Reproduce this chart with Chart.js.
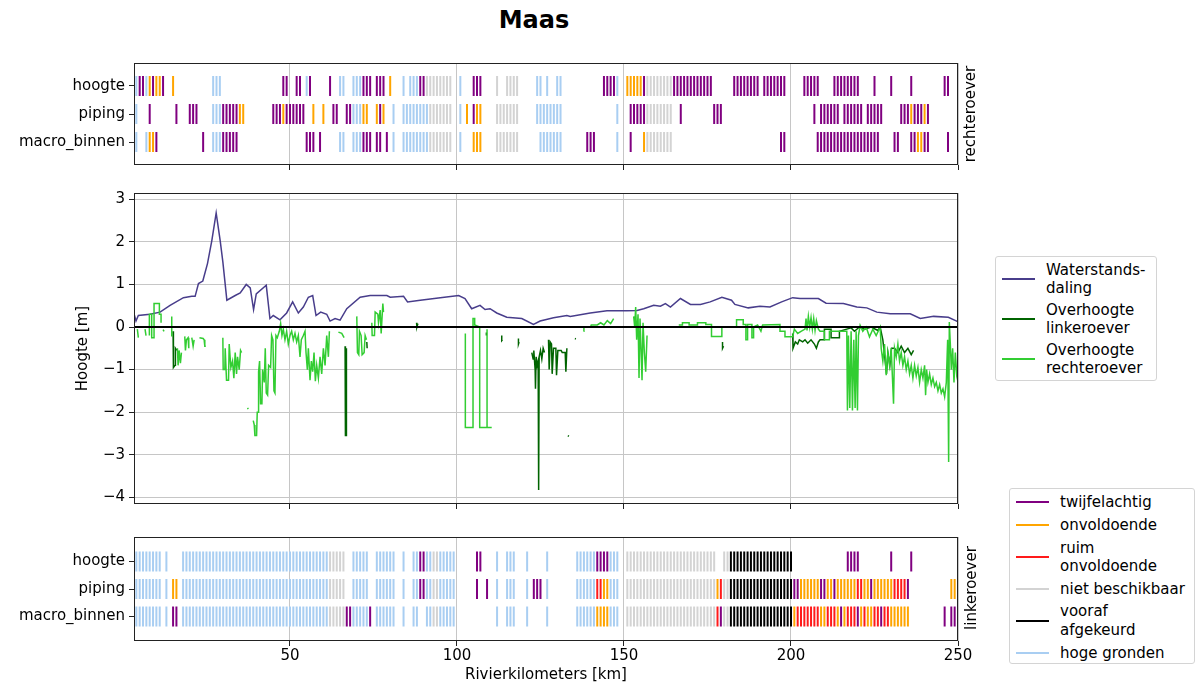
<!DOCTYPE html>
<html><head><meta charset="utf-8">
<script src="https://cdn.jsdelivr.net/npm/chart.js@4.4.1/dist/chart.umd.min.js"></script>
<style>
body{margin:0;background:#fff;font-family:'DejaVu Sans',sans-serif;}
#wrap{position:relative;width:1198px;height:684px;overflow:hidden;background:#fff}
canvas{position:absolute;left:0}
#title{position:absolute;top:6px;left:434px;width:200px;text-align:center;font-weight:bold;font-size:24px;line-height:28px;color:#000}
.side{position:absolute;font-size:15px;line-height:18px;height:18px;transform:rotate(-90deg);white-space:nowrap;width:120px;text-align:center;color:#000}
.legend{position:absolute;border:1px solid #d4d4d4;border-radius:3px;background:#fff;font-size:15px;color:#000;box-sizing:border-box;padding:4px 0 0 6px}
.item{display:flex;align-items:center;line-height:18.3px}
.hl{width:33px;height:0;border-top:2px solid;margin-right:11px;flex:none}
</style></head>
<body>
<div id="wrap">
  <div id="title">Maas</div>
  <canvas id="c1" width="1198" height="130" style="top:50px;width:1198px;height:130px"></canvas>
  <canvas id="c2" width="1198" height="350" style="top:180px;width:1198px;height:350px"></canvas>
  <canvas id="c3" width="1198" height="159" style="top:525px;width:1198px;height:159px"></canvas>
  <div class="side" style="left:910px;top:105px">rechteroever</div>
  <div class="side" style="left:911px;top:579px">linkeroever</div>
  <div class="legend" id="leg1" style="left:995px;top:256px;width:162px;height:125px"></div>
  <div class="legend" id="leg2" style="left:1009px;top:488px;width:186px;height:176px"></div>
</div>
<script>
// ---------- DATA ----------
const KM_MIN = 3.3, KM_MAX = 250;
const xTicks = [50, 100, 150, 200, 250];
const hTicks = [-4, -3, -2, -1, 0, 1, 2, 3];
const rowLabels = ['macro_binnen', 'piping', 'hoogte'];

const statusCodes = ['T', 'O', 'R', 'N', 'V', 'H'];
const statusLabels = {T:'twijfelachtig', O:'onvoldoende', R:'ruim onvoldoende', N:'niet beschikbaar', V:'vooraf afgekeurd', H:'hoge gronden'};
const statusLegend = {T:['twijfelachtig'], O:['onvoldoende'], R:['ruim','onvoldoende'], N:['niet beschikbaar'], V:['vooraf','afgekeurd'], H:['hoge gronden']};
const statusColors = {T:'#800080', O:'#ffa500', R:'#ff1a1a', N:'#d3d3d3', V:'#000000', H:'#a9cef2'};

// rechteroever strips: [from km, to km, status]
const rHoogte = [[4,4,'H'],[5,6,'T'],[7,7,'H'],[8,8,'O'],[9,9,'T'],[10,11,'O'],[12,12,'T'],[15,15,'O'],[27,29,'H'],[48,49,'T'],[52,53,'T'],[55,55,'H'],[56,56,'T'],[62,62,'T'],[65,66,'H'],[69,71,'H'],[72,74,'T'],[76,78,'T'],[80,80,'O'],[84,84,'H'],[86,88,'H'],[89,90,'T'],[91,98,'N'],[101,101,'H'],[105,107,'T'],[112,112,'N'],[115,118,'N'],[124,125,'H'],[127,127,'H'],[130,131,'H'],[144,147,'T'],[148,148,'H'],[151,155,'O'],[156,156,'T'],[157,164,'N'],[165,176,'T'],[183,190,'T'],[192,198,'T'],[204,208,'T'],[213,220,'T'],[225,225,'T'],[230,230,'T'],[236,236,'T'],[246,247,'T']];
const rPiping = [[4,4,'H'],[8,8,'T'],[16,16,'T'],[20,22,'T'],[27,29,'H'],[30,34,'T'],[35,36,'O'],[45,47,'T'],[48,48,'O'],[49,54,'T'],[57,57,'O'],[60,60,'O'],[63,64,'T'],[67,68,'T'],[69,71,'H'],[72,73,'O'],[76,76,'O'],[77,77,'T'],[78,78,'O'],[81,81,'H'],[84,91,'H'],[92,98,'N'],[101,101,'H'],[103,103,'O'],[105,105,'T'],[106,107,'O'],[112,118,'N'],[124,131,'H'],[148,148,'H'],[152,156,'T'],[157,164,'N'],[167,167,'T'],[177,179,'T'],[207,207,'T'],[209,214,'T'],[216,221,'T'],[223,227,'T'],[233,235,'T'],[236,236,'O'],[237,239,'T'],[240,240,'O'],[241,241,'T']];
const rMacro = [[4,4,'H'],[7,7,'H'],[8,9,'O'],[10,10,'T'],[24,24,'T'],[27,29,'H'],[30,34,'T'],[55,57,'T'],[59,59,'T'],[65,66,'H'],[69,71,'H'],[72,74,'T'],[76,77,'T'],[79,79,'T'],[81,81,'H'],[84,91,'H'],[92,98,'N'],[101,101,'H'],[105,107,'O'],[112,118,'N'],[125,131,'H'],[139,141,'T'],[148,148,'H'],[152,152,'T'],[156,156,'O'],[157,164,'N'],[197,198,'T'],[208,226,'T'],[231,232,'T'],[236,237,'T'],[238,239,'O'],[240,241,'T'],[247,247,'T']];

// linkeroever strips
const lHoogte = [[4,11,'H'],[13,13,'H'],[18,61,'H'],[62,66,'N'],[69,73,'H'],[76,81,'H'],[84,84,'H'],[87,88,'H'],[89,90,'T'],[91,92,'H'],[93,94,'N'],[95,99,'H'],[106,107,'T'],[112,112,'H'],[115,117,'H'],[121,121,'H'],[127,127,'H'],[136,141,'H'],[142,145,'T'],[146,148,'H'],[151,177,'N'],[180,181,'N'],[182,200,'V'],[217,220,'T'],[230,230,'T'],[236,236,'T'],[250,250,'T']];
const lPiping = [[4,11,'H'],[13,13,'H'],[15,16,'O'],[18,61,'H'],[62,66,'N'],[69,73,'H'],[76,81,'H'],[84,84,'H'],[87,88,'H'],[89,90,'T'],[91,92,'H'],[93,94,'N'],[95,99,'H'],[106,106,'T'],[109,109,'T'],[112,112,'H'],[115,117,'H'],[121,121,'H'],[123,125,'T'],[127,127,'H'],[136,141,'H'],[142,143,'R'],[144,145,'O'],[146,148,'H'],[151,177,'N'],[178,178,'O'],[179,179,'R'],[180,181,'N'],[182,200,'V'],[201,202,'T'],[203,208,'O'],[209,210,'T'],[211,212,'O'],[213,213,'T'],[214,219,'O'],[220,221,'R'],[222,223,'O'],[224,224,'T'],[225,230,'O'],[231,234,'R'],[235,235,'T'],[248,250,'O']];
const lMacro = [[4,11,'H'],[13,13,'H'],[15,16,'T'],[18,61,'H'],[62,66,'N'],[67,68,'T'],[69,73,'H'],[74,74,'T'],[76,81,'H'],[84,84,'H'],[87,88,'H'],[91,92,'H'],[93,94,'N'],[95,99,'H'],[112,112,'H'],[115,117,'H'],[121,121,'H'],[127,127,'H'],[136,141,'H'],[142,145,'O'],[146,148,'H'],[151,177,'N'],[178,178,'R'],[179,179,'T'],[180,181,'N'],[182,200,'V'],[201,201,'O'],[202,208,'R'],[209,210,'O'],[211,213,'R'],[214,214,'O'],[215,215,'T'],[216,216,'O'],[217,219,'R'],[220,220,'T'],[221,221,'O'],[222,222,'R'],[223,224,'O'],[225,226,'R'],[227,227,'T'],[228,229,'R'],[230,235,'O'],[246,246,'T'],[248,249,'T']];

// Waterstandsdaling
const wKm = [3.3,3.9,4.6,8.1,11.1,14.1,18.1,20.6,21.6,22.6,23.9,25.3,26.6,27.9,29.1,29.9,31.1,33.6,35.1,36.9,38.1,39.1,39.9,42.9,44.0,45.0,47.0,49.0,50.8,52.5,54.0,55.5,56.8,57.8,59.2,61.0,62.0,63.5,65.0,67.0,71.0,74.0,79.0,80.0,84.0,85.2,89.0,95.0,100.5,102.4,104.4,106.9,108.4,109.9,111.9,114.9,119.4,122.9,124.9,128.9,132.9,133.9,139.9,144.9,150.9,153.9,155.9,158.9,160.9,162.4,163.9,166.9,169.9,172.9,175.8,179.3,182.2,183.2,187.2,190.7,193.7,197.2,200.5,202.7,208.2,210.5,215.7,219.7,222.7,225.7,229.7,235.7,238.7,242.7,247.1,249.6,250];
const wVal = [0.31,0.14,0.27,0.30,0.35,0.51,0.69,0.72,0.72,1.02,1.08,1.49,2.03,2.68,2.03,1.53,0.63,0.74,0.80,1.0,0.92,0.41,0.78,0.98,0.20,0.27,0.17,0.33,0.59,0.33,0.47,0.70,0.74,0.27,0.35,0.30,0.14,0.20,0.16,0.43,0.70,0.74,0.74,0.70,0.72,0.59,0.63,0.69,0.74,0.67,0.43,0.51,0.41,0.43,0.33,0.23,0.20,0.06,0.14,0.22,0.27,0.25,0.33,0.38,0.38,0.39,0.43,0.51,0.49,0.55,0.47,0.67,0.53,0.53,0.59,0.70,0.63,0.53,0.45,0.49,0.47,0.59,0.69,0.67,0.67,0.56,0.55,0.47,0.45,0.35,0.31,0.31,0.20,0.25,0.23,0.14,0.12];

// Overhoogte linkeroever [km, m], null = gap
const linkPts = [
[15.0,-0.1],[15.1,-0.95],[15.6,-0.9],[15.7,-0.5],[16.1,-0.55],null,
[66.5,-0.45],[66.6,-2.55],[66.9,-2.55],[66.9,-0.5],null,
[73.0,-0.35],[73.1,-0.5],null,
[87.9,0.1],[88.0,0.0],[88.3,0.08],null,
[108.8,-0.13],[108.8,-0.2],null,
[113.4,-0.2],[113.4,-0.32],[113.6,-0.3],null,
[118.4,-0.27],[118.4,-0.4],[118.6,-0.35],null,
[122.4,-0.6],[122.8,-0.75],[123.0,-0.55],[123.4,-1.0],[123.5,-1.45],[123.7,-0.7],[124.0,-0.9],[124.3,-0.8],[124.45,-3.83],[124.6,-0.7],[125.0,-0.55],[125.4,-0.75],[125.8,-0.5],[126.2,-0.6],null,
[127.4,-0.3],[127.6,-1.0],[127.9,-0.35],[128.3,-0.4],[128.5,-1.1],[128.9,-0.5],[129.6,-0.5],[129.8,-1.13],[130.2,-0.55],[131.2,-0.55],[131.5,-0.6],[132.4,-0.6],[132.6,-1.05],[132.9,-0.5],null,
[133.2,-2.55],[133.5,-2.57],null,
[135.3,-0.27],[135.6,-0.28],null,
[179.5,-0.35],[179.5,-0.5],[179.8,-0.45],null,
[200.5,-0.15],[200.6,-0.5],[201.3,-0.35],[202.0,-0.4],[202.5,-0.3],[203.5,-0.35],[204.2,-0.3],[205.0,-0.38],[206.0,-0.3],[207.0,-0.4],[207.6,-0.5],[208.2,-0.35],[208.7,-0.3],[210.0,-0.3],[210.0,-0.05],[212.0,-0.05],[212.0,-0.25],[214.5,-0.25],[214.5,-0.1],[216.7,-0.05],[218.0,-0.02],[219.0,-0.1],[220.5,0.0],[222.0,-0.05],[224.0,0.0],[226.0,-0.08],[226.7,0.0],[227.5,-0.3],[228.2,-0.8],[228.6,-1.1],[229.0,-0.6],[229.6,-0.9],[230.1,-0.5],[231.0,-0.5],[232.0,-0.6],[233.0,-0.45],[234.0,-0.6],[235.0,-0.5],[236.0,-0.65],[236.7,-0.55],null
];

// Overhoogte rechteroever [km, m], null = gap
const rechtPts = [
[4.3,-0.05],[4.6,-0.25],null,
[6.6,-0.05],[6.9,-0.2],null,
[7.9,-0.2],[7.9,0.3],[8.6,0.3],[8.6,-0.25],[9.3,-0.25],[9.3,0.55],[10.9,0.55],[10.9,0.3],[11.4,0.3],[11.4,0.1],null,
[12.0,-0.06],[12.3,-0.1],null,
[14.6,0.25],[14.6,-0.22],null,
[16.3,-0.5],[16.5,-0.9],[16.8,-0.55],[17.2,-0.85],[17.5,-0.6],null,
[18.5,-0.22],[18.7,-0.55],[19.0,-0.3],[19.5,-0.25],[19.7,-0.5],null,
[20.6,-0.25],[21.0,-0.45],[21.3,-0.3],null,
[22.9,-0.25],[24.0,-0.27],[24.3,-0.3],[24.5,-0.45],[24.8,-0.45],null,
[29.9,-0.25],[30.0,-1.0],[30.5,-1.0],[30.6,-0.5],[31.0,-1.25],[31.6,-1.25],[31.8,-0.4],[32.3,-0.95],[32.8,-0.8],[33.2,-1.2],[33.6,-0.6],[34.0,-1.1],[34.3,-0.7],[34.8,-1.0],[35.2,-0.55],[35.5,-0.6],null,
[37.3,-1.9],[37.5,-1.93],null,
[39.0,-2.2],[39.3,-2.3],[39.5,-2.55],[40.0,-2.55],[40.2,-2.0],[40.5,-2.0],[40.6,-1.05],[40.9,-0.8],[41.2,-1.8],[41.6,-1.8],[41.8,-1.0],[42.3,-1.3],[42.6,-0.5],[42.9,-1.55],[43.3,-1.6],[43.6,-0.9],[44.2,-0.95],[44.5,-0.2],[44.9,-0.3],[45.2,-1.5],[45.5,-1.55],[45.8,-0.2],[46.2,-0.25],[46.8,-0.1],[47.2,0.08],[47.6,-0.2],[48.0,-0.05],[48.5,-0.3],[49.0,-0.1],[49.5,-0.4],[50.0,-0.2],[50.5,-0.1],[51.0,-0.3],[51.5,-0.15],[52.0,-0.35],[52.5,-0.2],[53.0,-0.7],[53.4,-0.3],[54.0,-0.2],[54.5,-0.1],[54.8,-0.6],[55.2,-1.0],[55.5,-0.5],[56.0,-1.25],[56.4,-0.8],[56.8,-1.05],[57.2,-0.6],[57.6,-1.27],[58.0,-0.9],[58.5,-1.2],[59.0,-0.7],[59.5,-1.1],[60.0,-0.5],[60.5,-0.9],[61.0,-0.2],[61.5,-0.7],[61.8,-0.1],null,
[64.5,-0.12],[65.5,-0.15],[66.2,-0.25],null,
[70.0,0.25],[70.2,-0.6],[70.6,-0.65],[70.8,-0.1],[71.3,-0.2],[71.6,-0.65],[72.2,-0.6],[72.5,-0.2],[72.9,-0.3],null,
[74.5,0.1],[74.6,-0.2],[75.3,-0.2],[75.5,0.35],[76.3,0.3],[76.5,0.1],[77.0,0.4],[77.3,-0.15],[77.8,0.55],[78.0,0.35],null,
[102.5,-0.15],[102.5,-2.36],[104.8,-2.36],[104.8,0.2],[105.3,0.2],[105.3,0.05],[106.8,0.0],[106.8,-2.36],[110.4,-2.36],null,
[109.0,-0.05],[109.0,-2.36],null,
[137.9,-0.1],[138.0,0.0],[140.0,0.0],[140.2,0.05],[142.0,0.05],[143.0,0.1],[144.0,0.05],[145.0,0.15],[146.0,0.08],[146.9,0.2],null,
[152.9,0.25],[153.2,0.0],[153.5,0.47],[153.8,-0.3],[154.2,0.3],[154.5,-1.2],[154.8,0.2],[155.1,-0.5],[155.4,-1.25],[155.7,0.1],[156.1,-0.6],[156.5,-1.05],[156.9,-0.2],null,
[166.4,0.05],[167.5,0.05],[167.5,0.1],[169.5,0.1],[169.5,0.05],[172.0,0.05],[172.0,0.1],[174.5,0.1],[174.5,0.06],[176.2,0.06],[176.2,-0.22],[179.3,-0.22],[179.3,0.0],[183.7,0.0],[183.7,0.17],[185.7,0.17],[185.7,0.06],[186.5,0.06],[186.5,-0.3],[187.0,-0.3],[187.0,0.06],[188.3,0.06],[188.3,-0.25],[188.8,-0.25],[188.8,0.0],[190.0,0.05],[191.0,-0.1],[191.5,0.05],[196.7,0.06],[196.7,-0.1],[198.2,-0.1],[198.2,-0.23],[200.5,-0.23],[201.0,-0.05],[202.0,-0.15],[203.0,-0.1],[204.2,-0.05],[204.5,0.2],[204.8,-0.08],[205.2,0.25],[205.6,0.0],[206.0,0.22],[206.4,-0.05],[206.8,0.2],[207.2,-0.08],[207.6,0.15],[208.2,-0.05],[208.7,-0.1],[210.0,-0.1],[210.0,-0.3],[211.5,-0.3],[211.5,-0.1],[216.7,-0.1],[216.9,-1.96],[217.2,-0.2],[217.6,-1.9],[218.0,-0.1],[218.4,-1.96],[218.8,-0.3],[219.2,-1.9],[219.5,-0.1],[219.9,-1.96],[220.2,-0.2],[220.7,0.04],[221.5,-0.1],[222.5,0.0],[223.5,-0.23],[224.5,-0.05],[225.5,-0.2],[226.7,0.0],[227.0,-0.5],[227.5,-0.8],[228.0,-0.4],[228.5,-1.13],[229.0,-0.6],[229.5,-0.9],[230.0,-0.5],[230.7,-1.8],[231.0,-0.5],[231.5,-0.7],[232.0,-0.4],[232.5,-0.8],[233.0,-0.6],[233.5,-0.9],[234.0,-0.7],[234.5,-1.0],[235.0,-0.8],[235.5,-1.1],[236.0,-0.9],[236.5,-1.2],[237.0,-0.9],[237.5,-1.15],[238.0,-0.95],[238.5,-1.3],[239.0,-1.0],[239.5,-1.2],[240.0,-0.9],[240.3,-1.6],[240.6,-1.0],[241.0,-1.3],[241.5,-1.1],[242.0,-1.35],[242.5,-1.2],[243.0,-1.4],[243.5,-1.3],[244.0,-1.5],[244.5,-1.35],[245.0,-1.55],[245.5,-1.45],[246.0,-1.64],[246.5,-1.3],[246.9,-0.3],[247.2,-3.17],[247.4,0.12],[247.7,-0.4],[248.0,-1.0],[248.4,-0.5],[248.8,-1.3],[249.2,-0.6],[249.6,-1.1],[250,-0.9]
];

const lineSeries = [
  {label:['Waterstands-','daling'], color:'#483d8b'},
  {label:['Overhoogte','linkeroever'], color:'#006400'},
  {label:['Overhoogte','rechteroever'], color:'#32cd32'}
];

// ---------- RENDER ----------
const FONT = "'DejaVu Sans', sans-serif";
const TXT = '#000';
const GRID = '#c6c6c6';
const SPINE = '#222';

const framePlugin = {
  id: 'frame',
  afterDraw(chart) {
    const a = chart.chartArea, ctx = chart.ctx;
    ctx.save();
    ctx.strokeStyle = SPINE; ctx.lineWidth = 1;
    ctx.strokeRect(Math.round(a.left) + 0.5, Math.round(a.top) + 0.5,
                   Math.round(a.right - a.left) - 1, Math.round(a.bottom - a.top) - 1);
    ctx.restore();
  }
};
const zeroPlugin = {
  id: 'zero',
  afterDatasetsDraw(chart) {
    const a = chart.chartArea, ctx = chart.ctx, y = chart.scales.y.getPixelForValue(0);
    ctx.save();
    ctx.strokeStyle = '#000'; ctx.lineWidth = 2;
    ctx.beginPath(); ctx.moveTo(a.left, y); ctx.lineTo(a.right, y); ctx.stroke();
    ctx.restore();
  }
};

function xScale(height, showLabels, title) {
  return {
    type: 'linear', min: KM_MIN, max: KM_MAX,
    afterBuildTicks: s => { s.ticks = xTicks.map(v => ({value: v})); },
    afterFit: s => { s.height = height; s.paddingLeft = 0; s.paddingRight = 0; },
    border: {display: false},
    grid: {color: GRID, lineWidth: 1, tickColor: SPINE, tickLength: 5, drawTicks: true},
    ticks: {display: showLabels, callback: v => String(v), font: {family: FONT, size: 15}, color: TXT, padding: 1, maxRotation: 0, autoSkip: false},
    title: title ? {display: true, text: title, font: {family: FONT, size: 15}, color: TXT, padding: {top: 0, bottom: 0}} : {display: false}
  };
}

function stripDatasets(rows) {
  return statusCodes.map(c => {
    const pts = [];
    rows.forEach((segs, i) => {
      const y = 2 - i;
      segs.forEach(([a, b, k]) => { if (k === c) for (let km = a; km <= b; km++) pts.push({x: km, y: y}); });
    });
    return {
      label: statusLabels[c], data: pts, showLine: false,
      pointStyle: 'line', rotation: 90, pointRadius: 10, pointHoverRadius: 10,
      pointBorderWidth: 2, borderWidth: 2,
      pointBorderColor: statusColors[c], borderColor: statusColors[c], pointBackgroundColor: statusColors[c]
    };
  });
}

function makeStrip(id, rows, ymin, ymax, padTop, xHeight, showLabels, title) {
  return new Chart(document.getElementById(id), {
    type: 'scatter',
    data: {datasets: stripDatasets(rows)},
    options: {
      responsive: false, animation: false, devicePixelRatio: 1,
      layout: {padding: {left: 0, right: 240, top: padTop, bottom: 0}},
      plugins: {legend: {display: false}, tooltip: {enabled: false}},
      events: [],
      scales: {
        x: xScale(xHeight, showLabels, title),
        y: {
          type: 'linear', min: ymin, max: ymax,
          afterBuildTicks: s => { s.ticks = [0, 1, 2].map(v => ({value: v})); },
          afterFit: s => { s.width = 134; s.paddingTop = 0; s.paddingBottom = 0; },
          border: {display: false},
          grid: {drawOnChartArea: false, color: SPINE, tickColor: SPINE, tickLength: 5},
          ticks: {callback: v => rowLabels[v], font: {family: FONT, size: 15}, color: TXT, padding: 4}
        }
      }
    },
    plugins: [framePlugin]
  });
}

const toXY = pts => { let last = KM_MIN; return pts.map(p => { if (p === null) return {x: last, y: null}; last = p[0]; return {x: p[0], y: p[1]}; }); };

makeStrip('c1', [rHoogte, rPiping, rMacro], -0.82, 2.82, 13, 15, false, null);
makeStrip('c3', [lHoogte, lPiping, lMacro], -0.89, 2.89, 10, 43, true, 'Rivierkilometers [km]');

new Chart(document.getElementById('c2'), {
  type: 'scatter',
  data: {datasets: [
    {label: 'Waterstandsdaling', data: wKm.map((k, i) => ({x: k, y: wVal[i]})), showLine: true, borderColor: lineSeries[0].color, borderWidth: 1.5, pointRadius: 0, spanGaps: false, order: 2},
    {label: 'Overhoogte linkeroever', data: toXY(linkPts), showLine: true, borderColor: lineSeries[1].color, borderWidth: 1.5, pointRadius: 0, spanGaps: false, order: 1},
    {label: 'Overhoogte rechteroever', data: toXY(rechtPts), showLine: true, borderColor: lineSeries[2].color, borderWidth: 1.5, pointRadius: 0, spanGaps: false, order: 0}
  ]},
  options: {
    responsive: false, animation: false, devicePixelRatio: 1,
    layout: {padding: {left: 74, right: 240, top: 13, bottom: 0}},
    plugins: {legend: {display: false}, tooltip: {enabled: false}},
    events: [],
    scales: {
      x: xScale(26, false, null),
      y: {
        type: 'linear', min: -4.157, max: 3.148,
        afterBuildTicks: s => { s.ticks = hTicks.map(v => ({value: v})); },
        afterFit: s => { s.width = 60; s.paddingTop = 0; s.paddingBottom = 0; },
        border: {display: false},
        grid: {color: GRID, tickColor: SPINE, tickLength: 5},
        ticks: {callback: v => v < 0 ? '\u2212' + Math.abs(v) : String(v), font: {family: FONT, size: 15}, color: TXT, padding: 4},
        title: {display: true, text: 'Hoogte [m]', font: {family: FONT, size: 15}, color: TXT, padding: {top: 0, bottom: 0}}
      }
    }
  },
  plugins: [zeroPlugin, framePlugin]
});

// ---------- LEGENDS (HTML text) ----------
function fillLegend(id, entries, gap) {
  const box = document.getElementById(id);
  entries.forEach(e => {
    const it = document.createElement('div'); it.className = 'item'; it.style.marginBottom = gap + 'px';
    const hl = document.createElement('span'); hl.className = 'hl'; hl.style.borderTopColor = e.color;
    const tx = document.createElement('span'); tx.innerHTML = e.label.join('<br>');
    it.appendChild(hl); it.appendChild(tx); box.appendChild(it);
  });
}
fillLegend('leg1', lineSeries, 3.5);
fillLegend('leg2', statusCodes.map(c => ({label: statusLegend[c], color: statusColors[c]})), 4.5);
</script>
</body></html>
